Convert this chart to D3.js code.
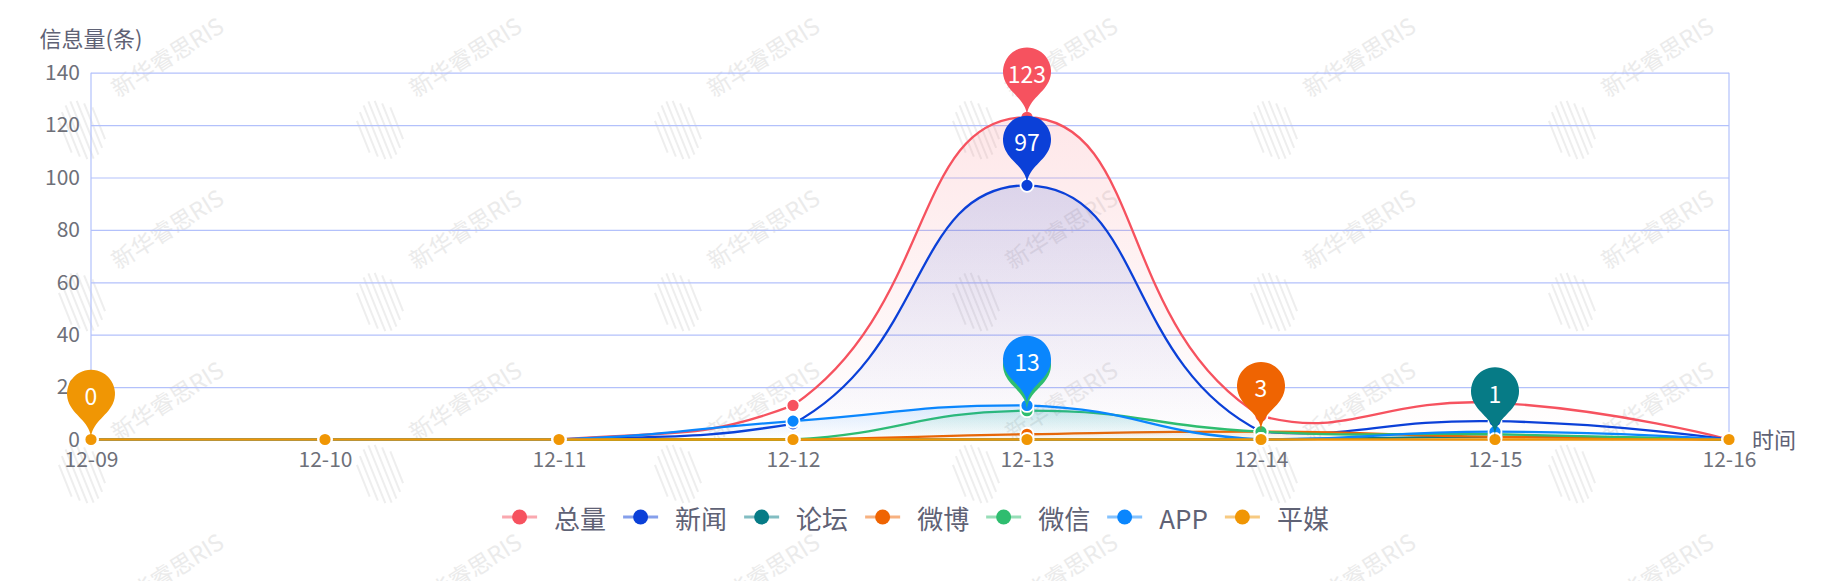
<!DOCTYPE html>
<html>
<head>
<meta charset="utf-8">
<script src="https://cdn.jsdelivr.net/npm/d3@7"></script>
<style>
  body { margin: 0; background: #fff; }
  svg { display: block; font-family: "Noto Sans CJK SC", "Noto Sans", sans-serif; }
</style>
</head>
<body>
<svg id="chart" width="1831" height="581"></svg>
<script>
// data
const dates = ["12-09", "12-10", "12-11", "12-12", "12-13", "12-14", "12-15", "12-16"];
const seriesNames = ["总量", "新闻", "论坛", "微博", "微信", "APP", "平媒"];
const seriesColors = ["#f6525f", "#0b40d8", "#067b86", "#ef6402", "#2fbd6f", "#0a86fd", "#f09604"];
const total  = [0, 0, 0, 13, 123, 9, 14, 0];
const news   = [0, 0, 0, 6, 97, 3, 7, 0];
const forum  = [0, 0, 0, 0, 0, 0, 1, 0];
const weibo  = [0, 0, 0, 0, 2, 3, 1, 0];
const wechat = [0, 0, 0, 0, 11, 3, 2, 0];
const app    = [0, 0, 0, 7, 13, 0, 3, 0];
const print  = [0, 0, 0, 0, 0, 0, 0, 0];
const yTicks = [0, 20, 40, 60, 80, 100, 120, 140];

const seriesValues = [total, news, forum, weibo, wechat, app, print];
const series = seriesNames.map((name, i) => ({ name, color: seriesColors[i], values: seriesValues[i] }));

const svg = d3.select("#chart");
const x0 = 91, x1 = 1729, yTop = 72.7, yBottom = 439.5;

const x = d3.scalePoint().domain(dates).range([x0, x1]);
const y = d3.scaleLinear().domain([0, 140]).range([yBottom, yTop]);

// echarts-like smoothing (control points clamped to the points' bounding box)
function drawSmooth(ctx, pts, s, cont) {
  if (!pts.length) return;
  const minX = d3.min(pts, p => p[0]), maxX = d3.max(pts, p => p[0]);
  const minY = d3.min(pts, p => p[1]), maxY = d3.max(pts, p => p[1]);
  const cx = v => Math.max(minX, Math.min(maxX, v));
  const cy = v => Math.max(minY, Math.min(maxY, v));
  if (cont) ctx.lineTo(pts[0][0], pts[0][1]); else ctx.moveTo(pts[0][0], pts[0][1]);
  let c0 = pts[0].slice(), v = [0, 0];
  for (let i = 1; i < pts.length; i++) {
    const p = pts[i], prev = pts[i - 1], next = pts[i + 1];
    let ratio = 0.5, c1;
    if (!next) {
      c1 = p.slice();
    } else {
      v = [next[0] - prev[0], next[1] - prev[1]];
      const l0 = Math.hypot(p[0] - prev[0], p[1] - prev[1]);
      const l1 = Math.hypot(next[0] - p[0], next[1] - p[1]);
      ratio = l1 / (l0 + l1);
      c1 = [p[0] - v[0] * s * (1 - ratio), p[1] - v[1] * s * (1 - ratio)];
    }
    ctx.bezierCurveTo(cx(c0[0]), cy(c0[1]), cx(c1[0]), cy(c1[1]), p[0], p[1]);
    c0 = [p[0] + v[0] * s * ratio, p[1] + v[1] * s * ratio];
  }
}

function curveEcharts(s) {
  return function(context) {
    let pts, inArea = false, count = 0;
    return {
      areaStart() { inArea = true; count = 0; },
      areaEnd() { context.closePath(); inArea = false; },
      lineStart() { pts = []; },
      point(px, py) { pts.push([+px, +py]); },
      lineEnd() { drawSmooth(context, pts, s, inArea && count > 0); count++; }
    };
  };
}

// watermark
const wm = svg.append("g").attr("class", "watermark");
const wmCols = d3.range(0, 6).map(i => 118 + i * 298);
const wmRows = d3.range(0, 4).map(j => 98 + j * 172);
const stripeLens = [34, 48, 58, 62, 58, 48, 34];
wmRows.forEach(ry => {
  wmCols.forEach(cxp => {
    const g = wm.append("g").attr("transform", `translate(${cxp},${ry})`);
    g.append("text")
      .attr("transform", "rotate(-32)")
      .attr("font-size", 23)
      .attr("fill", "#ebebeb")
      .text("新华睿思RIS");
    const logo = g.append("g").attr("transform", "translate(-36,32) rotate(-22)");
    stripeLens.forEach((len, k) => {
      logo.append("line")
        .attr("x1", (k - 3) * 6).attr("x2", (k - 3) * 6)
        .attr("y1", -len / 2).attr("y2", len / 2)
        .attr("stroke", "#eeeeee").attr("stroke-width", 2);
    });
  });
});

// grid
const gy = svg.append("g")
  .attr("transform", `translate(${x0},0)`)
  .call(d3.axisLeft(y).tickValues(yTicks).tickSize(-(x1 - x0)).tickPadding(11));
gy.select(".domain").remove();
gy.attr("font-size", 21).attr("font-family", null);
gy.selectAll("line").attr("stroke", "#b3c1fb").attr("stroke-width", 1.2);
gy.selectAll("text").attr("fill", "#6e7079");

svg.append("g").selectAll("line")
  .data([x0, x1])
  .join("line")
  .attr("x1", d => d).attr("x2", d => d)
  .attr("y1", yTop).attr("y2", yBottom)
  .attr("stroke", "#b3c1fb").attr("stroke-width", 1.2);

const gx = svg.append("g")
  .attr("transform", `translate(0,${yBottom})`)
  .call(d3.axisBottom(x).tickSize(0).tickPadding(13));
gx.select(".domain").remove();
gx.attr("font-size", 21).attr("font-family", null);
gx.selectAll("text").attr("fill", "#6e7079");

// axis names
svg.append("text")
  .attr("x", x0).attr("y", 37)
  .attr("text-anchor", "middle").attr("dominant-baseline", "central")
  .attr("font-size", 22).attr("fill", "#5f6275")
  .text("信息量(条)");
svg.append("text")
  .attr("x", 1752).attr("y", 438)
  .attr("dominant-baseline", "central")
  .attr("font-size", 22).attr("fill", "#5f6275")
  .text("时间");

// gradients
const defs = svg.append("defs");
series.forEach((s, i) => {
  const lg = defs.append("linearGradient")
    .attr("id", "grad" + i)
    .attr("x1", 0).attr("y1", 0).attr("x2", 0).attr("y2", 1);
  lg.append("stop").attr("offset", 0).attr("stop-color", s.color).attr("stop-opacity", 0.14);
  lg.append("stop").attr("offset", 1).attr("stop-color", s.color).attr("stop-opacity", 0.0);
});

const line = d3.line()
  .x((d, i) => x(dates[i]))
  .y(d => y(d))
  .curve(curveEcharts(0.5));
const area = d3.area()
  .x((d, i) => x(dates[i]))
  .y0(y(0))
  .y1(d => y(d))
  .curve(curveEcharts(0.5));

const plot = svg.append("g");
series.forEach((s, i) => {
  plot.append("path")
    .attr("d", area(s.values))
    .attr("fill", `url(#grad${i})`);
  plot.append("path")
    .attr("d", line(s.values))
    .attr("fill", "none")
    .attr("stroke", s.color)
    .attr("stroke-width", 2.3);
});

// points
series.forEach(s => {
  plot.append("g").selectAll("circle")
    .data(s.values)
    .join("circle")
    .attr("cx", (d, i) => x(dates[i]))
    .attr("cy", d => y(d))
    .attr("r", 6.5)
    .attr("fill", s.color)
    .attr("stroke", "#fff")
    .attr("stroke-width", 1.8);
});

// max pins
function pinPath(px, py, w, hgt) {
  const ww = w / 5 * 3, h = Math.max(ww, hgt), r = ww / 2;
  const dy = r * r / (h - r), cy = py - h + r + dy;
  const angle = Math.asin(dy / r);
  const dx = Math.cos(angle) * r;
  const tanX = Math.sin(angle), tanY = Math.cos(angle);
  const cpLen = r * 0.6, cpLen2 = r * 0.7;
  const p = d3.path();
  p.moveTo(px - dx, cy + dy);
  p.arc(px, cy, r, Math.PI - angle, Math.PI * 2 + angle);
  p.bezierCurveTo(px + dx - tanX * cpLen, cy + dy + tanY * cpLen, px, py - cpLen2, px, py);
  p.bezierCurveTo(px, py - cpLen2, px - dx + tanX * cpLen, cy + dy + tanY * cpLen, px - dx, cy + dy);
  p.closePath();
  return { d: p.toString(), cy };
}

const pins = svg.append("g");
series.forEach(s => {
  const mx = d3.max(s.values);
  const idx = s.values.indexOf(mx);
  const px = x(dates[idx]), py = y(mx);
  const pin = pinPath(px, py, 80, 80);
  pins.append("path").attr("d", pin.d).attr("fill", s.color);
  pins.append("text")
    .attr("x", px).attr("y", pin.cy + 1.5)
    .attr("text-anchor", "middle").attr("dominant-baseline", "central")
    .attr("font-size", 23).attr("fill", "#fff")
    .text(mx);
});

// legend
const legend = svg.append("g");
let lx = 0;
series.forEach(s => {
  const item = legend.append("g").attr("transform", `translate(${lx},0)`);
  item.append("line")
    .attr("x1", 0).attr("x2", 35).attr("y1", 0).attr("y2", 0)
    .attr("stroke", s.color).attr("stroke-width", 3).attr("stroke-opacity", 0.5);
  item.append("circle").attr("cx", 17.5).attr("cy", 0).attr("r", 7.5).attr("fill", s.color);
  const t = item.append("text")
    .attr("x", 52).attr("y", 0)
    .attr("dominant-baseline", "central")
    .attr("font-size", 26).attr("fill", "#5f6275")
    .text(s.name);
  lx += 52 + t.node().getComputedTextLength() + 17;
});
const legendW = lx - 17;
legend.attr("transform", `translate(${(1831 - legendW) / 2},517)`);
</script>
</body>
</html>
